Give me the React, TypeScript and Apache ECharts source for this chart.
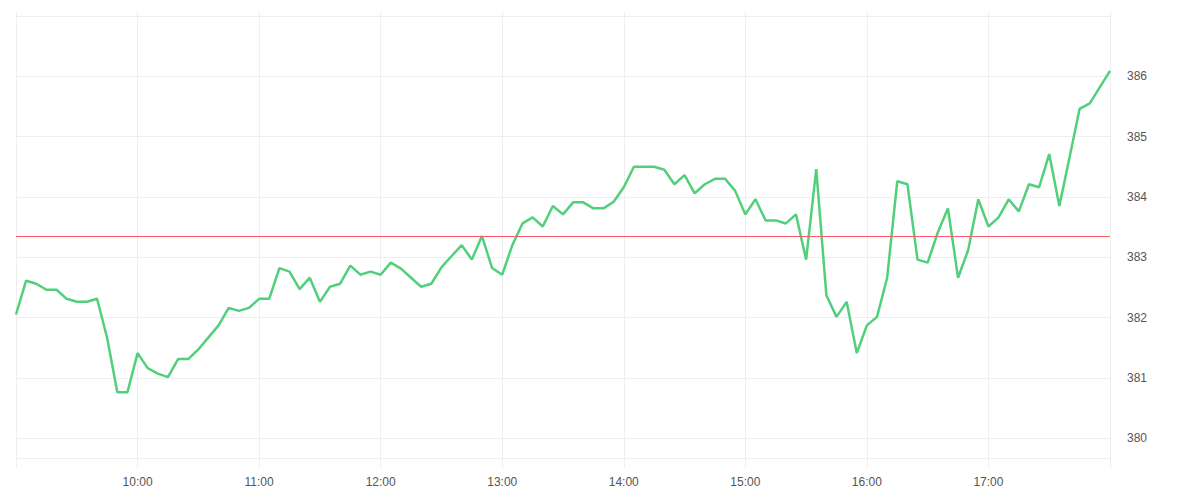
import React, { useEffect, useRef } from "react";
import * as echarts from "echarts";

// x domain: minutes after midnight, one point every 5 minutes from 09:00 to 18:00
const START_MIN = 540;
const END_MIN = 1080;
const STEP_MIN = 5;

const prices: number[] = [
  382.05, 382.61, 382.56, 382.46, 382.46, 382.31, 382.26, 382.26, 382.31, 381.66,
  380.76, 380.76, 381.41, 381.16, 381.07, 381.01, 381.31, 381.31, 381.47, 381.67,
  381.87, 382.16, 382.11, 382.16, 382.31, 382.31, 382.82, 382.76, 382.47, 382.66,
  382.26, 382.51, 382.56, 382.86, 382.71, 382.76, 382.71, 382.91, 382.81, 382.66,
  382.51, 382.56, 382.83, 383.02, 383.2, 382.96, 383.35, 382.82, 382.71, 383.2,
  383.56, 383.66, 383.51, 383.85, 383.71, 383.91, 383.91, 383.81, 383.81, 383.92,
  384.16, 384.5, 384.5, 384.5, 384.45, 384.21, 384.36, 384.06, 384.21, 384.3,
  384.3, 384.1, 383.71, 383.96, 383.61, 383.61, 383.56, 383.71, 382.96, 384.46,
  382.37, 382.01, 382.26, 381.41, 381.87, 382.01, 382.66, 384.26, 384.21, 382.96,
  382.91, 383.41, 383.81, 382.66, 383.12, 383.96, 383.51, 383.66, 383.96, 383.76,
  384.21, 384.16, 384.71, 383.85, 384.65, 385.46, 385.55, 385.82, 386.09,
];

const referencePrice = 383.345;
const yMin = 379.67;
const yMax = 387;

const fmt = (m: number) => {
  const h = Math.floor(m / 60);
  const mm = m % 60;
  return `${h}:${mm < 10 ? "0" + mm : mm}`;
};

export default function App() {
  const ref = useRef<HTMLDivElement>(null);
  useEffect(() => {
    if (!ref.current) return;
    const chart = echarts.init(ref.current, undefined, { renderer: "svg" });
    const data = prices.map((v, i) => [START_MIN + i * STEP_MIN, v]);
    chart.setOption({
      animation: false,
      backgroundColor: "#ffffff",
      textStyle: { fontFamily: "sans-serif" },
      grid: [
        { left: 8, right: 98, top: 4, bottom: 40 },
        { left: 8, right: 98, top: 8, bottom: 50 },
      ],
      xAxis: [
        {
          type: "value",
          gridIndex: 0,
          min: START_MIN,
          max: END_MIN,
          interval: 60,
          axisLine: { show: false },
          axisTick: { show: false },
          splitLine: { show: true, lineStyle: { color: "#eeeeee", width: 1 } },
          axisLabel: {
            formatter: (v: number) => fmt(v),
            showMinLabel: false,
            showMaxLabel: false,
            color: "#555",
            fontSize: 12,
            margin: 8,
          },
        },
        {
          type: "value",
          gridIndex: 1,
          min: START_MIN,
          max: END_MIN,
          interval: 60,
          show: false,
          splitLine: { show: false },
        },
      ],
      yAxis: [
        { type: "value", gridIndex: 0, show: false, splitLine: { show: false } },
        {
          type: "value",
          gridIndex: 1,
          position: "right",
          min: yMin,
          max: yMax,
          axisLine: { show: false },
          axisTick: { show: false },
          splitLine: { show: true, lineStyle: { color: "#eeeeee", width: 1 } },
          axisLabel: {
            showMinLabel: false,
            showMaxLabel: false,
            color: "#555",
            fontSize: 12,
            margin: 17,
          },
        },
      ],
      series: [
        {
          type: "line",
          xAxisIndex: 1,
          yAxisIndex: 1,
          data,
          showSymbol: false,
          symbol: "none",
          lineStyle: { color: "#51d07c", width: 2.5 },
          itemStyle: { color: "#51d07c" },
          markLine: {
            silent: true,
            symbol: "none",
            label: { show: false },
            emphasis: { disabled: true },
            lineStyle: { color: "#fa5a6a", width: 1, type: "solid", opacity: 1 },
            data: [{ yAxis: referencePrice, lineStyle: { color: "#fa5a6a" } }],
          },
        },
      ],
    });
    return () => chart.dispose();
  }, []);
  return <div ref={ref} style={{ width: 1200, height: 500 }} />;
}
